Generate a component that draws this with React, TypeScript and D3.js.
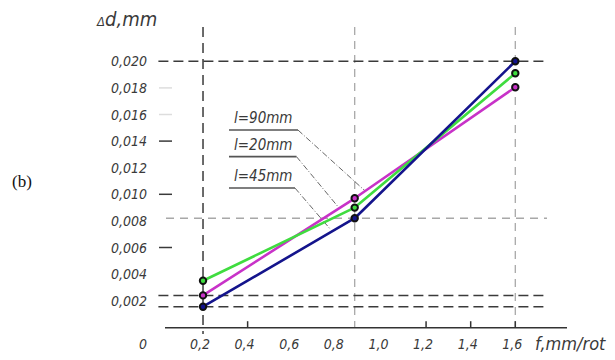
import React from "react";
import * as d3 from "d3";

const feeds = [0.2, 0.88, 1.6];
const magentaValues = [0.0024, 0.0097, 0.01805];
const greenValues = [0.0035, 0.009, 0.0191];
const blueValues = [0.00155, 0.0082, 0.02];
const seriesColors = ["#c832c8", "#3fdc3f", "#14148c"];
const yTicks = [0.002, 0.004, 0.006, 0.008, 0.01, 0.012, 0.014, 0.016, 0.018, 0.02];
const yTickLabels = ["0,002", "0,004", "0,006", "0,008", "0,010", "0,012", "0,014", "0,016", "0,018", "0,020"];
const xTicks = [0.2, 0.4, 0.6, 0.8, 1.0, 1.2, 1.4, 1.6];
const xTickLabels = ["0,2", "0,4", "0,6", "0,8", "1,0", "1,2", "1,4", "1,6"];
const xTickMarks = [0.4, 1.2, 1.4, 1.6];
const darkGuidesY = [0.02, 0.0024, 0.00155];
const lightGuidesY = [0.0082];
const lightGuidesX = [0.88, 1.6];
const darkTickStubs = [0.014, 0.01, 0.006];
const lightTickStubs = [0.018, 0.016];
// legend annotations: label, underline level, leader end point (data units)
const legendLabels = ["l=90mm", "l=20mm", "l=45mm"];
const legendLevels = [0.01483, 0.01283, 0.01047];
const leaderEndF = [0.927, 0.806, 0.77];
const leaderEndV = [0.01025, 0.00905, 0.00739];

const FONT = "'DejaVu Sans Condensed', 'DejaVu Sans', sans-serif";

export default function App() {
  const x = d3.scaleLinear().domain([0, 1.6]).range([158.4, 515.3]);
  const y = d3.scaleLinear().domain([0, 0.02]).range([327.3, 61.3]);
  const series = [magentaValues, greenValues, blueValues];
  const line = d3
    .line<number>()
    .x((_, i) => x(feeds[i]))
    .y((d) => y(d));
  const axisY = y(0) + 0.4;
  const txt = { fontFamily: FONT, fontStyle: "italic" as const, fill: "#3a3a3a" };

  return (
    <svg
      width={615}
      height={360}
      style={{ position: "absolute", left: 0, top: 0, background: "#fff" }}
    >
      <rect x={0} y={0} width={615} height={360} fill="#fff" />
      {/* light guides */}
      {lightGuidesX.map((f, i) => (
        <line key={"lgx" + i} x1={x(f)} x2={x(f)} y1={27} y2={axisY} stroke="#a8a8a8" strokeWidth={1.3} strokeDasharray="8,6" />
      ))}
      {lightGuidesY.map((v, i) => (
        <line key={"lgy" + i} x1={166} x2={547} y1={y(v)} y2={y(v)} stroke="#a8a8a8" strokeWidth={1.3} strokeDasharray="8,6" />
      ))}
      {/* dark guides */}
      <line x1={x(0.2)} x2={x(0.2)} y1={27} y2={334} stroke="#3a3a3a" strokeWidth={1.5} strokeDasharray="10,6" />
      {darkGuidesY.map((v, i) => (
        <line key={"dgy" + i} x1={x(0)} x2={547} y1={y(v)} y2={y(v)} stroke="#3a3a3a" strokeWidth={1.5} strokeDasharray="10,5" />
      ))}
      {/* tick stubs on y */}
      {darkTickStubs.map((v, i) => (
        <line key={"dts" + i} x1={159} x2={172} y1={y(v)} y2={y(v)} stroke="#3a3a3a" strokeWidth={1.5} />
      ))}
      {lightTickStubs.map((v, i) => (
        <line key={"lts" + i} x1={159} x2={172} y1={y(v)} y2={y(v)} stroke="#dddddd" strokeWidth={1.5} />
      ))}
      {/* x axis */}
      <line x1={165} x2={567} y1={axisY} y2={axisY} stroke="#333" strokeWidth={1.5} />
      {xTickMarks.map((f, i) => (
        <line key={"xt" + i} x1={x(f)} x2={x(f)} y1={axisY - 6.5} y2={axisY} stroke="#333" strokeWidth={1.5} />
      ))}
      {/* y tick labels */}
      {yTicks.map((v, i) => (
        <text key={"yl" + i} x={147} y={y(v) + 5} textAnchor="end" fontSize={14} {...txt}>
          {yTickLabels[i]}
        </text>
      ))}
      <text x={147} y={349} textAnchor="end" fontSize={14} {...txt}>0</text>
      {xTicks.map((f, i) => (
        <text key={"xl" + i} x={x(f) - 3} y={349} textAnchor="middle" fontSize={14} {...txt}>
          {xTickLabels[i]}
        </text>
      ))}
      <text x={535} y={350} fontSize={18} {...txt}>f,mm/rot</text>
      <text x={97} y={26} {...txt}>
        <tspan fontSize={13}>Δ</tspan>
        <tspan fontSize={20}>d,mm</tspan>
      </text>
      <text x={12} y={187} fontSize={17} fontFamily="'Liberation Serif', 'DejaVu Serif', serif" fill="#111">(b)</text>
      {/* legend annotations */}
      {legendLabels.map((lab, i) => {
        const ly = y(legendLevels[i]);
        const xr = 298 - i * 1.5;
        return (
          <g key={"lg" + i}>
            <text x={234} y={ly - 7} fontSize={15} {...txt}>{lab}</text>
            <line x1={229} x2={xr} y1={ly} y2={ly} stroke="#555" strokeWidth={1.6} />
            <line x1={xr} y1={ly} x2={x(leaderEndF[i])} y2={y(leaderEndV[i])} stroke="#555" strokeWidth={0.9} strokeDasharray="6,2,1,2" />
          </g>
        );
      })}
      {/* series */}
      {series.map((vals, s) => (
        <path key={"s" + s} d={line(vals) || ""} fill="none" stroke={seriesColors[s]} strokeWidth={2.6} strokeLinejoin="round" />
      ))}
      {series.map((vals, s) =>
        vals.map((v, i) => (
          <circle key={"p" + s + "-" + i} cx={x(feeds[i])} cy={y(v)} r={3.2} fill={seriesColors[s]} stroke="#111" strokeWidth={2} />
        ))
      )}
    </svg>
  );
}
